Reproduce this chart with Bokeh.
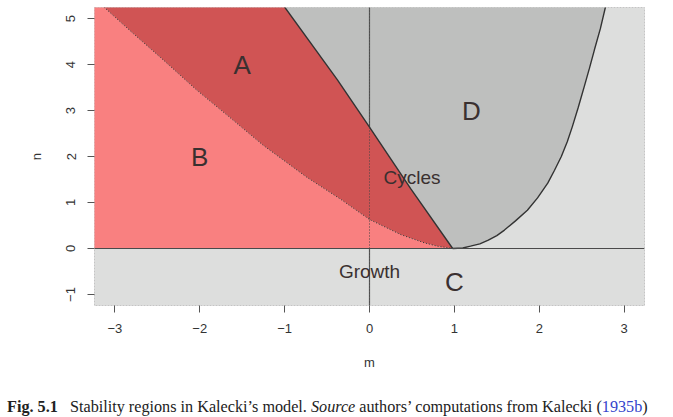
from bokeh.plotting import figure
from bokeh.models import Span, Div, FixedTicker
from bokeh.layouts import column
from bokeh.core.properties import value
from bokeh.embed import file_html
from bokeh.resources import INLINE

# ---- data ----
x_ticks = [-3, -2, -1, 0, 1, 2, 3]
y_ticks = [-1, 0, 1, 2, 3, 4, 5]
x_range = (-3.24, 3.24)
y_range = (-1.24, 5.24)

# boundary between B and A (dotted curve)
ba_m = [-3.13, -2.80, -2.43, -2.04, -1.64, -1.25, -0.74, -0.34, 0.0, 0.37, 0.65, 0.80, 0.98]
ba_n = [5.25, 4.70, 4.10, 3.45, 2.84, 2.24, 1.55, 1.07, 0.63, 0.30, 0.12, 0.05, 0.0]

# boundary between A and D (straight line)
ad_m = [-1.00, -0.38, 0.0, 0.485, 0.98]
ad_n = [5.25, 3.67, 2.64, 1.30, 0.0]

# boundary between D and the right region
dr_m = [0.98, 1.10, 1.19, 1.30, 1.40, 1.50, 1.59, 1.72, 1.86, 1.98, 2.10, 2.18, 2.26, 2.33, 2.39, 2.46, 2.53, 2.59, 2.65, 2.72, 2.78]
dr_n = [0.0, 0.01, 0.05, 0.10, 0.18, 0.28, 0.40, 0.60, 0.83, 1.10, 1.42, 1.70, 2.00, 2.32, 2.65, 3.07, 3.52, 3.91, 4.32, 4.78, 5.25]

labels = ["A", "B", "C", "D"]
label_m = [-1.5, -2.0, 1.0, 1.2]
label_n = [4.0, 2.0, -0.72, 3.0]

notes = ["Cycles", "Growth"]
note_m = [0.5, 0.0]
note_n = [1.55, -0.5]

# ---- styling ----
LIGHT_GREY = "#DDDEDD"
GREY = "#BEBFBE"
LIGHT_RED = "#F98080"
DARK_RED = "#D05454"
INK = "#3a3030"
FONT = value("Liberation Sans")

p = figure(width=665, height=392, x_range=x_range, y_range=y_range,
           output_backend="svg", toolbar_location=None,
           min_border_left=94, min_border_right=21, min_border_top=7,
           min_border_bottom=87)
p.background_fill_color = LIGHT_GREY
p.border_fill_color = "white"
p.outline_line_color = "#c4c4c4"
p.outline_line_dash = "2 1"
p.xgrid.visible = False
p.ygrid.visible = False

x_lo = x_range[0] - 0.1

# D region (grey)
p.patch(ad_m + dr_m[1:], ad_n + dr_n[1:], fill_color=GREY, line_color=None, level="image")

# vertical m = 0 line (solid, beneath red regions)
p.add_layout(Span(location=0, dimension="height", line_color="#5a5a5a", line_width=1.2, level="underlay"))

# B region (light red)
p.patch([x_lo] + ba_m + [x_lo], [ba_n[0]] + ba_n + [0], fill_color=LIGHT_RED, line_color=None)
# A region (dark red)
p.patch(ad_m + ba_m[::-1], ad_n + ba_n[::-1], fill_color=DARK_RED, line_color=None)

# boundary lines
p.line(ba_m, ba_n, line_color="#333333", line_width=1, line_dash="1 2")
p.line(ad_m, ad_n, line_color="#333333", line_width=1.4)
p.line(dr_m, dr_n, line_color="#333333", line_width=1.4)

# dotted m = 0 line over red regions, solid n = 0 line
p.add_layout(Span(location=0, dimension="height", line_color="#444444", line_width=1, line_dash="1 2"))
p.add_layout(Span(location=0, dimension="width", line_color="#4a4a4a", line_width=1.2))

p.text(label_m, label_n, text=labels, text_font=FONT, text_font_size="26px",
       text_color=INK, text_align="center", text_baseline="middle")
p.text(note_m, note_n, text=notes, text_font=FONT, text_font_size="19px",
       text_color=INK, text_align="center", text_baseline="middle")

# axes
for ax, ticks in ((p.xaxis[0], x_ticks), (p.yaxis[0], y_ticks)):
    ax.ticker = FixedTicker(ticks=ticks)
    ax.major_label_overrides = {t: str(t).replace("-", "\u2212") for t in ticks}
    ax.axis_line_color = None
    ax.major_tick_line_color = "#555555"
    ax.major_tick_out = 7
    ax.major_tick_in = 0
    ax.minor_tick_line_color = None
    ax.major_label_text_font = "Liberation Sans"
    ax.major_label_text_font_size = "13px"
    ax.major_label_text_color = "#333333"
    ax.axis_label_text_font = "Liberation Sans"
    ax.axis_label_text_font_size = "13px"
    ax.axis_label_text_font_style = "normal"
    ax.axis_label_text_color = "#333333"

p.xaxis.axis_label = "m"
p.yaxis.axis_label = "n"
p.xaxis.major_label_standoff = 11
p.xaxis.axis_label_standoff = 19
p.yaxis.major_label_orientation = "vertical"
p.yaxis.major_label_standoff = 12
p.yaxis.axis_label_standoff = 20

caption = Div(
    text=('<b>Fig. 5.1</b>&nbsp;&nbsp;&nbsp;Stability regions in Kalecki\u2019s model. '
          '<i>Source</i> authors\u2019 computations from Kalecki '
          '(<span style="color:#3344cc">1935b</span>)'),
    styles={"font-family": "'Liberation Serif', serif", "font-size": "16.2px",
            "color": "#222222", "white-space": "nowrap", "line-height": "18px"},
    width=666, height=20, margin=(6, 0, 0, 7))

layout = column(p, caption, spacing=0)
open("out.html", "w").write(file_html(layout, INLINE))
